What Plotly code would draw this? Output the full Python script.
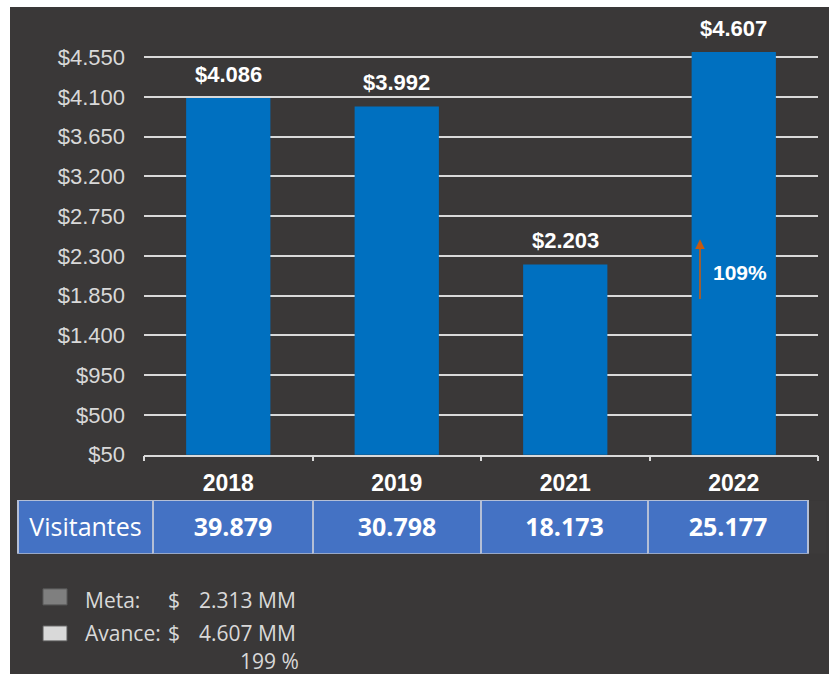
import plotly.graph_objects as go

years = ["2018", "2019", "2021", "2022"]
ingresos = [4086, 3992, 2203, 4607]
visitantes = ["39.879", "30.798", "18.173", "25.177"]
y_ticks = [50, 500, 950, 1400, 1850, 2300, 2750, 3200, 3650, 4100, 4550]
meta_mm = "2.313"
avance_mm = "4.607"
avance_pct = 199
crec_pct = 109

# the photo squeezes the page height a little (688 -> 674), so the figure is
# drawn 688 tall and every vertical pixel position is stretched by K
W, H = 829, 688
K = H / 674
ML, MT = 10, 7 * K
DARK = "#3a3838"
LIGHT = "#d9d9d9"


def px(x):
    # reference pixel -> paper x
    return (x - ML) / (W - ML)


def py(y):
    # reference pixel -> paper y
    return (H - y * K) / (H - MT)


# bar area 144..818 px wide, axis at y=454, $4.550 at y=56.5
y_top_px, y_bot_px = 20, 454
scale = (453.5 - 56.5) / 4500
y_max = 50 + (y_bot_px - y_top_px) / scale

fig = go.Figure()

fig.add_trace(go.Bar(
    x=years, y=ingresos, width=0.5,
    marker=dict(color="#0070c0", line=dict(width=0)),
    hoverinfo="skip",
))

# value labels (x as category index)
for i, v in enumerate(ingresos):
    fig.add_annotation(
        x=i, y=v, xref="x", yref="y",
        text="<b>$" + f"{v:,}".replace(",", ".") + "</b>",
        showarrow=False, yanchor="bottom", xanchor="center", yshift=9,
        font=dict(family="Liberation Sans, Arial", size=22, color="white"),
    )

fig.add_trace(go.Table(
    domain=dict(x=[px(18), px(808)], y=[py(553), py(500)]),
    columnwidth=[135, 160, 168, 167, 160],
    header=dict(
        values=["<span>Visitantes</span>"] + ["<b>" + v + "</b>" for v in visitantes],
        fill_color="#4472c4",
        line=dict(color="#b4bfd6", width=1.5),
        align="center", height=53,
        font=dict(family="Open Sans", size=25, color="white"),
    ),
    cells=dict(values=[[] for _ in range(5)], height=0),
))

# legend box at the bottom
fig.add_shape(type="rect", xref="paper", yref="paper",
              x0=px(43), x1=px(67), y0=py(604), y1=py(588),
              fillcolor="#7f7f7f", line=dict(width=1, color="#5a5a5a"))
fig.add_shape(type="rect", xref="paper", yref="paper",
              x0=px(43), x1=px(67), y0=py(640), y1=py(625),
              fillcolor=LIGHT, line=dict(width=1, color="#5a5a5a"))

leg_font = dict(family="Open Sans", size=21, color=LIGHT)
for label, val, ypx in [("Meta:", meta_mm, 599), ("Avance:", avance_mm, 632)]:
    fig.add_annotation(x=px(83), y=py(ypx), xref="paper", yref="paper", text=label,
                       showarrow=False, xanchor="left", yanchor="middle", font=leg_font)
    fig.add_annotation(x=px(166), y=py(ypx), xref="paper", yref="paper", text="$",
                       showarrow=False, xanchor="left", yanchor="middle", font=leg_font)
    fig.add_annotation(x=px(197), y=py(ypx), xref="paper", yref="paper", text=val + " MM",
                       showarrow=False, xanchor="left", yanchor="middle", font=leg_font)
fig.add_annotation(x=px(301), y=py(660), xref="paper", yref="paper", text=f"{avance_pct} %",
                   showarrow=False, xanchor="right", yanchor="middle", font=leg_font)

# growth arrow
fig.add_annotation(x=px(700), y=py(239), xref="paper", yref="paper", text="",
                   showarrow=True, ax=0, ay=60 * K, arrowcolor="#c55a11",
                   arrowwidth=1.6, arrowhead=2, arrowsize=1.2)
fig.add_annotation(x=px(740), y=py(272), xref="paper", yref="paper",
                   text=f"<b>{crec_pct}%</b>", showarrow=False,
                   xanchor="center", yanchor="middle",
                   font=dict(family="Liberation Sans, Arial", size=21, color="white"))

# dark panel
fig.add_shape(type="rect", xref="paper", yref="paper", x0=0, x1=1, y0=0, y1=1,
              fillcolor=DARK, line=dict(width=0), layer="below")

fig.update_layout(
    width=W, height=H,
    margin=dict(l=ML, r=0, t=MT, b=0, pad=0),
    paper_bgcolor="white", plot_bgcolor="rgba(0,0,0,0)",
    separators=",.",
    showlegend=False,
    bargap=0.5,
    xaxis=dict(
        domain=[px(144), px(818)], type="category",
        showline=True, linecolor=LIGHT, linewidth=1.5,
        ticks="outside", tickson="boundaries", ticklen=5, tickcolor=LIGHT, tickwidth=1.5,
        showgrid=False,
        tickfont=dict(family="Liberation Sans, Arial", size=23, color="white", weight="bold"),
        ticklabelstandoff=7,
    ),
    yaxis=dict(
        domain=[py(y_bot_px), py(y_top_px)],
        range=[50, y_max],
        tickvals=y_ticks, tickformat="$,.0f",
        showgrid=True, gridcolor=LIGHT, gridwidth=1.5,
        zeroline=False, showline=False,
        tickfont=dict(family="Liberation Sans, Arial", size=22, color=LIGHT),
        ticklabelstandoff=18,
    ),
)

# drop the default page margin so the figure fills the window
page_js = "document.body.style.margin='0';document.documentElement.style.background='" + DARK + "';"
fig.write_html("out.html", post_script=page_js, config={"displayModeBar": False})
